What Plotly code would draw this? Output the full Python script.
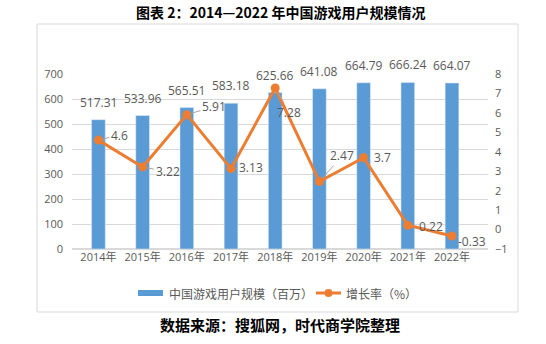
import plotly.graph_objects as go

# China game users (millions) and growth rate (%), 2014-2022
years = ["2014年", "2015年", "2016年", "2017年", "2018年", "2019年", "2020年", "2021年", "2022年"]
users = [517.31, 533.96, 565.51, 583.18, 625.66, 641.08, 664.79, 666.24, 664.07]
growth = [4.6, 3.22, 5.91, 3.13, 7.28, 2.47, 3.7, 0.22, -0.33]
series_names = ["中国游戏用户规模（百万）", "增长率（%）"]

# label offsets (px) for the growth-rate labels; leader flag per label
growth_label_offsets = [(21, -5), (25, 5), (27, -8), (20, -1), (14, 24),
                        (23, -26), (19, 0), (23, 1), (20, 6)]
growth_leaders = [True, True, True, True, True, True, False, False, False]

BLUE = "#5B9BD5"
ORANGE = "#ED7D31"
GREY = "#595959"
FONT = "Open Sans, Noto Sans CJK SC, sans-serif"
CJK = "Noto Sans CJK SC, sans-serif"

fig = go.Figure()
fig.add_trace(go.Bar(
    x=years, y=users, name=series_names[0],
    marker=dict(color=BLUE), width=0.31, showlegend=False,
))
fig.add_trace(go.Scatter(
    x=years, y=growth, name=series_names[1], yaxis="y2",
    mode="lines+markers",
    line=dict(color=ORANGE, width=3),
    marker=dict(color=ORANGE, size=9),
    cliponaxis=False, showlegend=False,
))

annotations = []
# value labels above the bars
for yr, v in zip(years, users):
    annotations.append(dict(
        x=yr, y=v, xref="x", yref="y", text=f"{v:.2f}", showarrow=False,
        yanchor="bottom", yshift=7,
        font=dict(color=GREY, size=12, family=FONT),
    ))
# growth-rate labels with leader lines
for yr, g, (dx, dy), lead in zip(years, growth, growth_label_offsets, growth_leaders):
    annotations.append(dict(
        x=yr, y=g, xref="x", yref="y2", text=f"{g:g}",
        showarrow=True, ax=dx, ay=dy, arrowhead=0, arrowwidth=1,
        arrowcolor="#A6A6A6" if lead else "rgba(0,0,0,0)", standoff=5,
        font=dict(color=GREY, size=12, family=FONT),
    ))

# titles
annotations.append(dict(
    x=0.5, y=1.354, xref="paper", yref="paper", xanchor="center", yanchor="middle",
    text="<b>图表 2：2014—2022 年中国游戏用户规模情况</b>", showarrow=False,
    font=dict(size=14, color="black", family=CJK),
))
annotations.append(dict(
    x=0.5, y=-0.434, xref="paper", yref="paper", xanchor="center", yanchor="middle",
    text="<b>数据来源：搜狐网，时代商学院整理</b>", showarrow=False,
    font=dict(size=15, color="black", family=CJK),
))

# legend, drawn by hand (paper coords: plot spans 72..488 px wide, 74..249 px tall)
def px_x(p):
    return (p - 72) / 416.0

def px_y(p):
    return (249 - p) / 175.0

annotations.append(dict(
    x=px_x(167), y=px_y(293), xref="paper", yref="paper", xanchor="left", yanchor="middle",
    text=series_names[0], showarrow=False, font=dict(size=12, color=GREY, family=CJK),
))
annotations.append(dict(
    x=px_x(344), y=px_y(293), xref="paper", yref="paper", xanchor="left", yanchor="middle",
    text=series_names[1], showarrow=False, font=dict(size=12, color=GREY, family=CJK),
))

shapes = [
    dict(type="rect", xref="paper", yref="paper",
         x0=px_x(37), x1=px_x(518), y0=px_y(312), y1=px_y(24),
         line=dict(color="#D9D9D9", width=1), layer="below"),
    dict(type="rect", xref="paper", yref="paper",
         x0=px_x(138), x1=px_x(163), y0=px_y(296), y1=px_y(290),
         fillcolor=BLUE, line=dict(width=0)),
    dict(type="line", xref="paper", yref="paper",
         x0=px_x(316), x1=px_x(341), y0=px_y(293), y1=px_y(293),
         line=dict(color=ORANGE, width=3)),
    dict(type="circle", xref="paper", yref="paper",
         x0=px_x(324.5), x1=px_x(332.5), y0=px_y(297), y1=px_y(289),
         fillcolor=ORANGE, line=dict(width=0)),
]

fig.update_layout(
    width=546, height=344,
    margin=dict(l=72, r=58, t=74, b=95),
    paper_bgcolor="white", plot_bgcolor="white",
    showlegend=False,
    xaxis=dict(tickfont=dict(size=11, color=GREY, family=FONT), showgrid=False,
               showline=False, ticks=""),
    yaxis=dict(range=[0, 700], dtick=100, gridcolor="#D9D9D9", gridwidth=1,
               tickfont=dict(size=11, color=GREY, family=FONT), zeroline=True,
               zerolinecolor="#D9D9D9", ticks="", ticklabelstandoff=8),
    yaxis2=dict(range=[-1, 8], dtick=1, overlaying="y", side="right", showgrid=False,
                zeroline=False, tickfont=dict(size=11, color=GREY, family=FONT), ticks="",
                ticklabelstandoff=6),
    annotations=annotations,
    shapes=shapes,
)

fig.write_html("out.html")
